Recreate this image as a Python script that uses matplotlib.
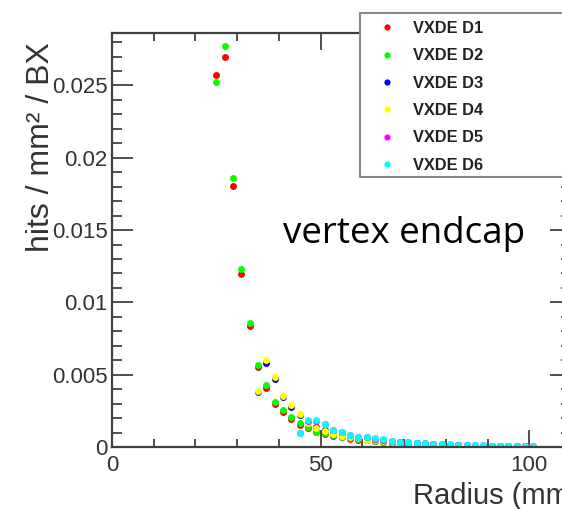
import numpy as np
import matplotlib
matplotlib.use("Agg")
import matplotlib.pyplot as plt
from matplotlib.patches import Rectangle
from matplotlib.lines import Line2D
from matplotlib.ticker import MultipleLocator, FuncFormatter

plt.rcParams['font.family'] = ['Liberation Sans', 'DejaVu Sans']

# hit density per disk (radius in mm)
r_d12 = [25, 27, 29, 31, 33, 35, 37, 39, 41, 43, 45, 47, 49, 51, 53, 55, 57, 59, 61,
         63, 65, 67, 69, 71, 73, 75, 77, 79, 81, 83, 85, 87, 89, 91, 93, 95, 97, 99]
d1 = [0.02575, 0.02700, 0.01805, 0.01194, 0.00837, 0.00556, 0.00410, 0.00300, 0.00242, 0.00195,
      0.00155, 0.00128, 0.00102, 0.00088, 0.00076, 0.00066, 0.00058, 0.00051, 0.00045, 0.00039,
      0.00034, 0.00030, 0.00026, 0.00023, 0.00020, 0.00018, 0.00016, 0.00014, 0.00012, 0.00011,
      0.00009, 0.00008, 0.00007, 0.00006, 0.00005, 0.00005, 0.00004, 0.00003]
d2 = [0.02524, 0.02771, 0.01862, 0.01231, 0.00855, 0.00567, 0.00429, 0.00310, 0.00256, 0.00205,
      0.00164, 0.00136, 0.00106, 0.00095, 0.00082, 0.00071, 0.00063, 0.00055, 0.00048, 0.00042,
      0.00037, 0.00032, 0.00028, 0.00025, 0.00022, 0.00019, 0.00017, 0.00015, 0.00013, 0.00011,
      0.00010, 0.00009, 0.00008, 0.00007, 0.00006, 0.00005, 0.00004, 0.00004]

r_d34 = [35, 37, 39, 41, 43, 45, 47, 49, 51, 53, 55, 57, 59, 61, 63, 65, 67,
         69, 71, 73, 75, 77, 79, 81, 83, 85, 87, 89, 91, 93, 95, 97, 99]
d3 = [0.00378, 0.00579, 0.00468, 0.00343, 0.00278, 0.00220, 0.00172, 0.00140, 0.00115, 0.00096,
      0.00082, 0.00071, 0.00062, 0.00054, 0.00047, 0.00041, 0.00036, 0.00032, 0.00028, 0.00025,
      0.00022, 0.00019, 0.00017, 0.00015, 0.00013, 0.00011, 0.00010, 0.00009, 0.00008, 0.00007,
      0.00006, 0.00005, 0.00004]
d4 = [0.00387, 0.00602, 0.00482, 0.00355, 0.00290, 0.00228, 0.00165, 0.00130, 0.00108, 0.00090,
      0.00078, 0.00067, 0.00059, 0.00051, 0.00045, 0.00039, 0.00034, 0.00030, 0.00027, 0.00024,
      0.00021, 0.00018, 0.00016, 0.00014, 0.00012, 0.00011, 0.00010, 0.00009, 0.00008, 0.00007,
      0.00006, 0.00005, 0.00004]

r_d56 = [45, 47, 49, 51, 53, 55, 57, 59, 61, 63, 65, 67, 69, 71, 73,
         75, 77, 79, 81, 83, 85, 87, 89, 91, 93, 95, 97, 99, 101]
d5 = [0.00095, 0.00183, 0.00182, 0.00158, 0.00118, 0.00103, 0.00083, 0.00069, 0.00066, 0.00058,
      0.00051, 0.00043, 0.00036, 0.00034, 0.00029, 0.00025, 0.00021, 0.00019, 0.00017, 0.00015,
      0.00014, 0.00012, 0.00011, 0.00010, 0.00009, 0.00008, 0.00006, 0.00005, 0.00004]
d6 = [0.00099, 0.00187, 0.00187, 0.00162, 0.00120, 0.00106, 0.00085, 0.00071, 0.00068, 0.00060,
      0.00053, 0.00044, 0.00037, 0.00035, 0.00030, 0.00026, 0.00021, 0.00020, 0.00018, 0.00016,
      0.00014, 0.00013, 0.00011, 0.00010, 0.00009, 0.00008, 0.00006, 0.00005, 0.00004]

series = [("VXDE D1", r_d12, d1, "#ff0000"),
          ("VXDE D2", r_d12, d2, "#00ff00"),
          ("VXDE D3", r_d34, d3, "#0000ff"),
          ("VXDE D4", r_d34, d4, "#ffff00"),
          ("VXDE D5", r_d56, d5, "#ff00ff"),
          ("VXDE D6", r_d56, d6, "#00ffff")]

W, H = 562, 509
fig = plt.figure(figsize=(W / 100, H / 100), dpi=100)
# the frame's right side lies just past the picture's edge
ax = fig.add_axes([112 / W, 1 - 447 / H, (571 - 112) / W, (447 - 33) / H])

handles = []
for name, r, y, c in series:
    h, = ax.plot(r, y, 'o', color=c, ms=5, mew=0, label=name)
    handles.append(h)

ax.set_xlim(0, 110)
ax.set_ylim(0, 0.02863)

frame = '#404040'
for s in ax.spines.values():
    s.set_color(frame)
    s.set_linewidth(1.6)

ax.xaxis.set_major_locator(MultipleLocator(50))
ax.xaxis.set_minor_locator(MultipleLocator(10))
ax.yaxis.set_major_locator(MultipleLocator(0.005))
ax.yaxis.set_minor_locator(MultipleLocator(0.001))
ax.yaxis.set_major_formatter(FuncFormatter(lambda v, p: '%g' % round(v, 4)))
ax.tick_params(which='both', direction='in', top=True, right=True, color=frame, width=1.3,
               labelsize=16, labelcolor='#333333')
ax.tick_params(axis='y', which='major', length=15, pad=3)
ax.tick_params(axis='y', which='minor', length=7)
ax.tick_params(axis='x', which='major', length=12, pad=6)
ax.tick_params(axis='x', which='minor', length=6)

fig.text(41 / W, 1 - 42 / H, 'hits / mm² / BX', rotation=90, ha='center', va='top',
         fontsize=23, color='#333333')
fig.text(413 / W, 1 - 504 / H, 'Radius (mm)', ha='left', va='baseline',
         fontsize=21, color='#333333')
fig.text(283 / W, 1 - 243 / H, 'vertex endcap', ha='left', va='baseline',
         fontsize=26.5, family=['Open Sans', 'DejaVu Sans'], color='black')

# legend box runs past the right edge of the picture: white fill, three sides drawn
x0, x1, yt, yb = 360 / W, 1.05, 1 - 13 / H, 1 - 177 / H
fig.patches.append(Rectangle((x0, yb), x1 - x0, yt - yb, transform=fig.transFigure,
                             facecolor='white', edgecolor='none', zorder=4))
fig.lines.append(Line2D([x1, x0, x0, x1], [yt, yt, yb, yb], transform=fig.transFigure,
                        color='#888888', lw=1.5, zorder=4.5))

leg = fig.legend(handles=handles, loc='upper left',
                 bbox_to_anchor=(360 / W, 1 - 13 / H), frameon=False,
                 borderaxespad=0, numpoints=1,
                 prop={'weight': 'bold', 'size': 11.8}, markerscale=0.9,
                 handlelength=2.33, handletextpad=0.38, borderpad=0.5, labelspacing=0.75)
leg.set_zorder(5)
for t in leg.get_texts():
    t.set_color('#222222')

fig.savefig('out.png', dpi=100)
